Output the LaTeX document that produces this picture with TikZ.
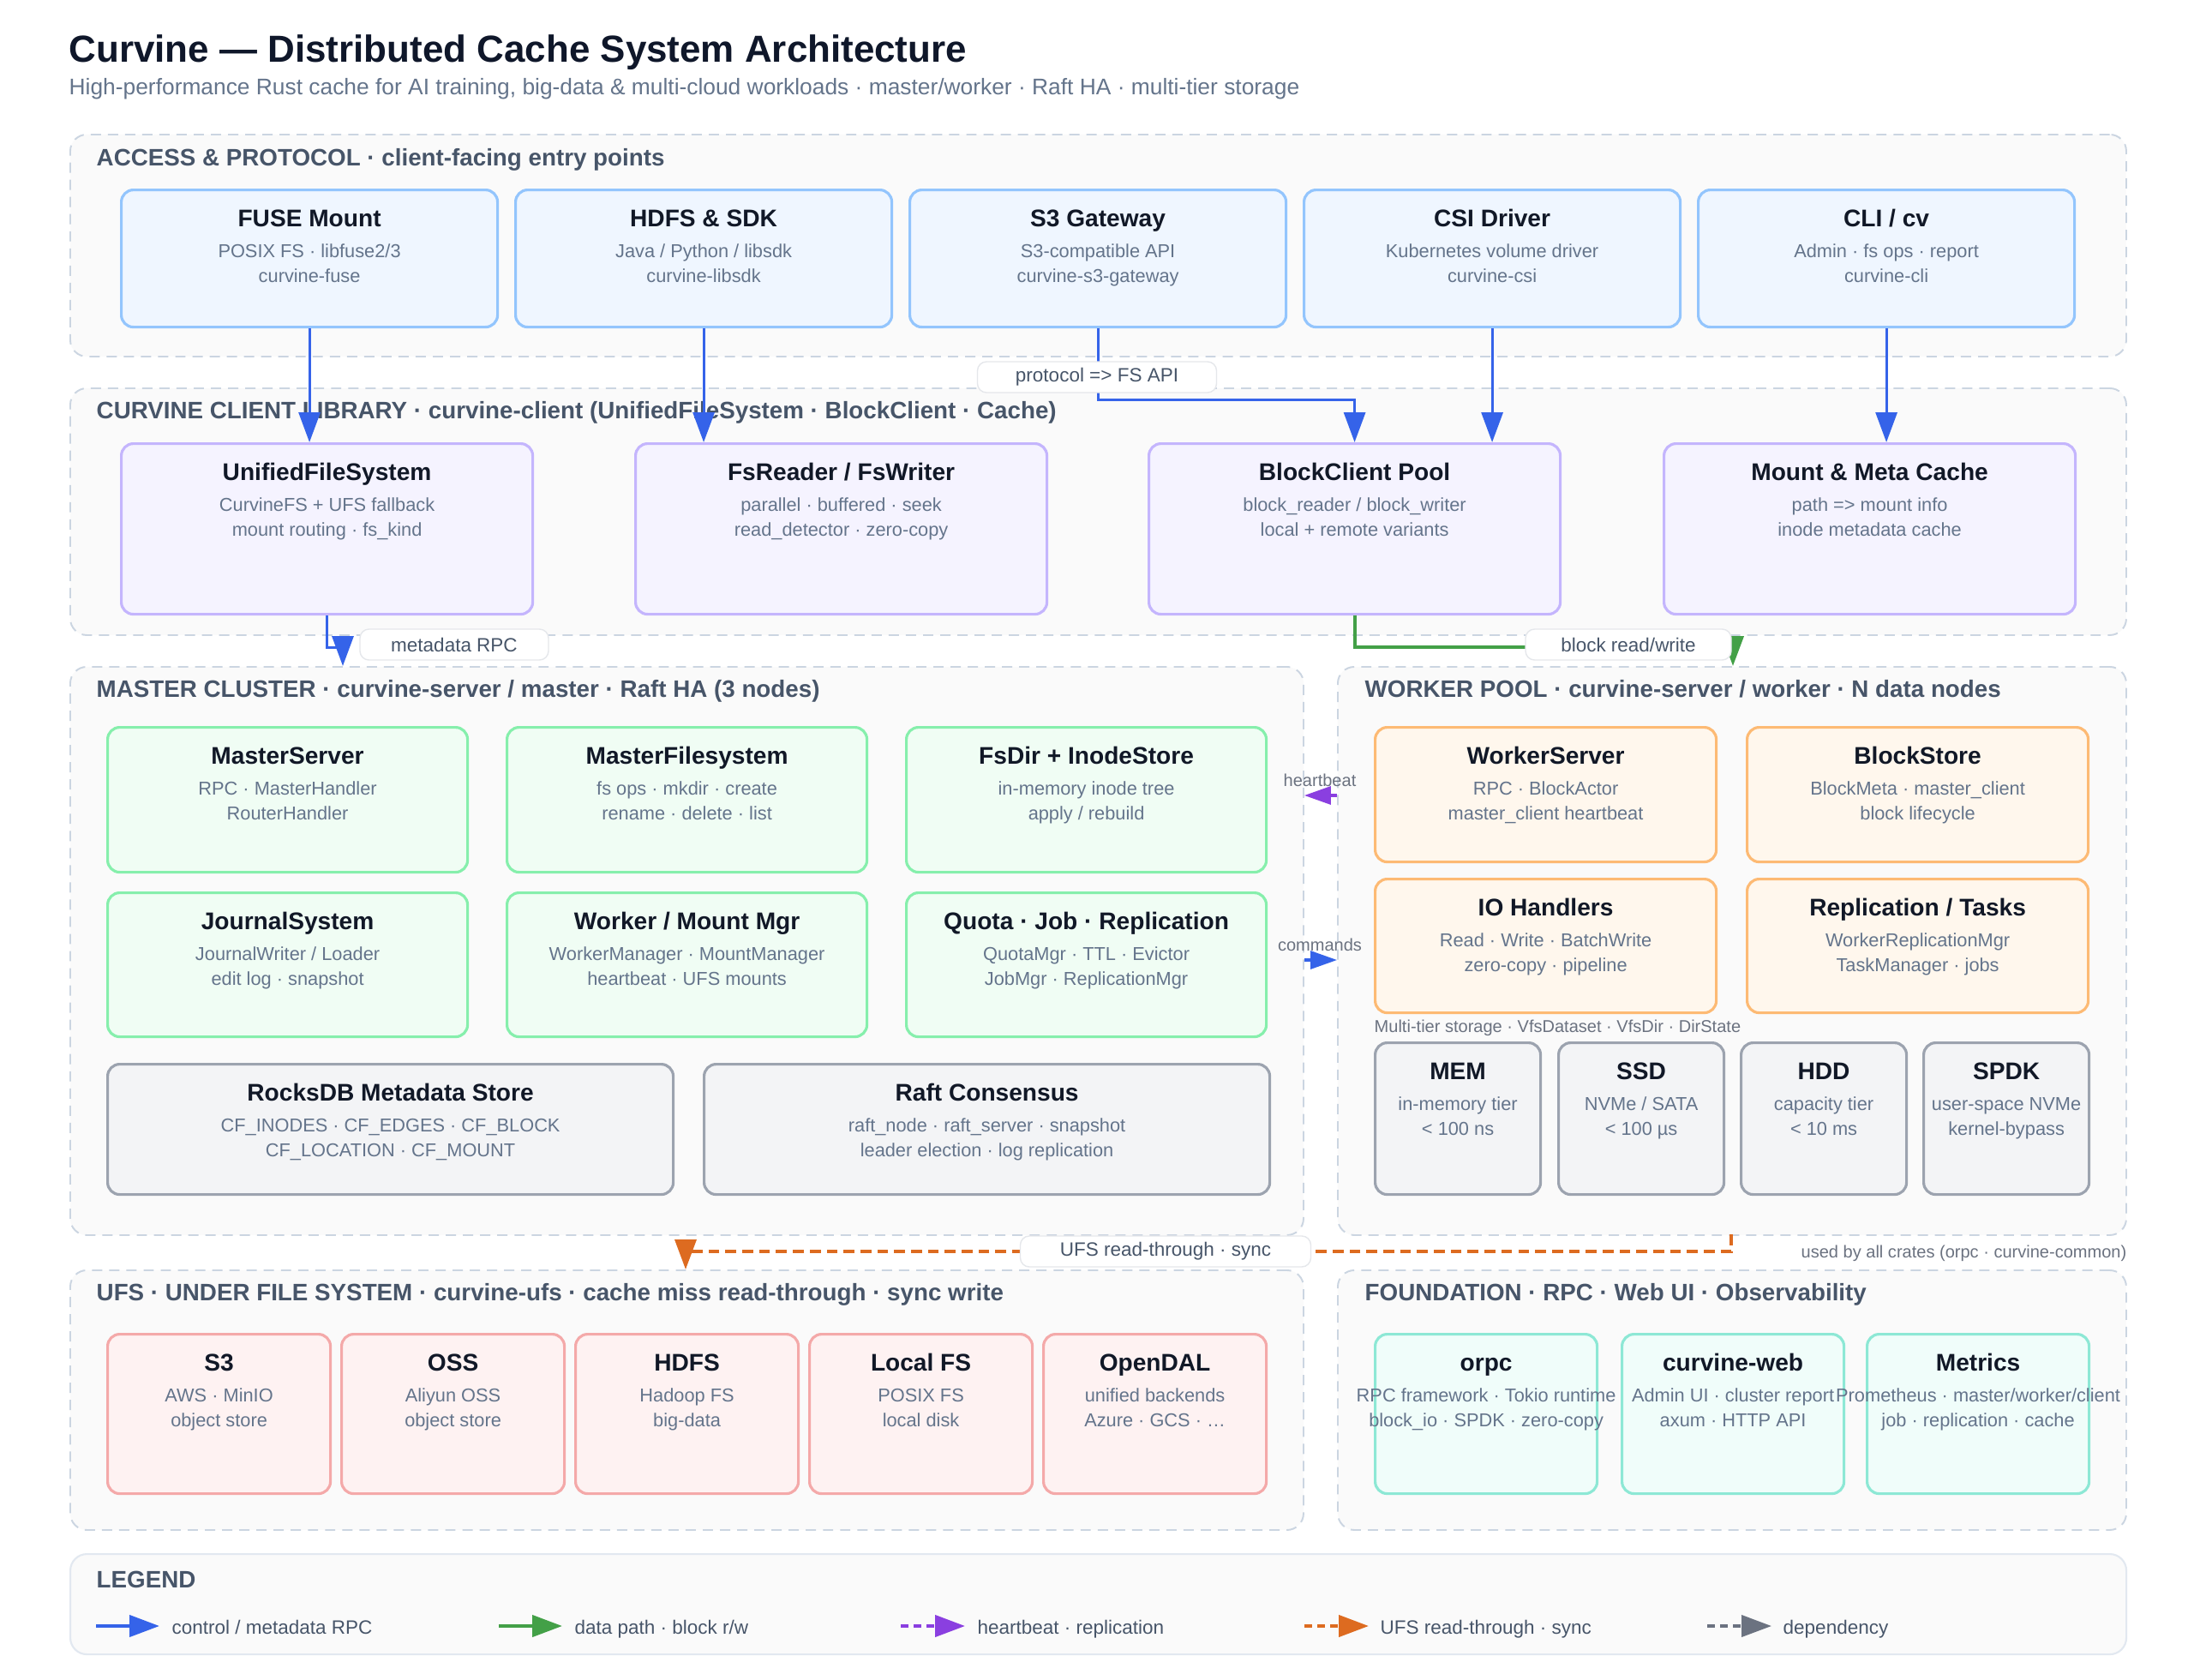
\documentclass[tikz,border=0pt]{standalone}
\usepackage{fontspec}
\setmainfont{Liberation Sans}
\usetikzlibrary{arrows.meta}
\definecolor{ctitle}{HTML}{0F172A}
\definecolor{csub}{HTML}{64748B}
\definecolor{cgrouptext}{HTML}{475569}
\definecolor{cnodetext}{HTML}{111827}
\definecolor{csmall}{HTML}{6B7280}
\definecolor{cgroupbg}{HTML}{FAFAFA}
\definecolor{cgroupline}{HTML}{CBD5E1}
\definecolor{clegline}{HTML}{E2E8F0}
\definecolor{clblline}{HTML}{E5E7EB}
\definecolor{cblue}{HTML}{3563E9}
\definecolor{cgreen}{HTML}{43A047}
\definecolor{cpurple}{HTML}{8A3FE0}
\definecolor{corange}{HTML}{DD6B20}
\definecolor{cgray}{HTML}{6B7280}
\definecolor{accessbg}{HTML}{EFF6FF}
\definecolor{accessline}{HTML}{93C5FD}
\definecolor{clientbg}{HTML}{F5F3FF}
\definecolor{clientline}{HTML}{C4B5FD}
\definecolor{masterbg}{HTML}{F0FDF4}
\definecolor{masterline}{HTML}{86EFAC}
\definecolor{storebg}{HTML}{F3F4F6}
\definecolor{storeline}{HTML}{9CA3AF}
\definecolor{workerbg}{HTML}{FFF7ED}
\definecolor{workerline}{HTML}{FDBA74}
\definecolor{ufsbg}{HTML}{FEF2F2}
\definecolor{ufsline}{HTML}{F4A9A9}
\definecolor{foundbg}{HTML}{F0FDFA}
\definecolor{foundline}{HTML}{8DE8D5}

\tikzset{
  group/.style={draw=cgroupline, fill=cgroupbg, line width=0.55pt, dash pattern=on 3.4pt off 2.3pt,
    rounded corners=5.5pt, inner sep=0pt, anchor=north west},
  legendbox/.style={draw=clegline, fill=cgroupbg, line width=0.6pt, rounded corners=5.5pt,
    inner sep=0pt, anchor=north west},
  grouptitle/.style={anchor=base west, inner sep=0pt, text=cgrouptext,
    font=\fontsize{7.9}{9}\selectfont\bfseries},
  comp/.style={draw=#1line, fill=#1bg, line width=0.9pt, rounded corners=4pt, inner sep=0pt},
  comptitle/.style={anchor=base, inner sep=0pt, text=cnodetext, font=\fontsize{8}{9.6}\selectfont\bfseries},
  compsub/.style={anchor=base, inner sep=0pt, text=csub, font=\fontsize{6.2}{7.5}\selectfont},
  lbl/.style={draw=clblline, fill=white, line width=0.4pt, rounded corners=3pt, inner sep=0pt,
    minimum height=0.36cm, text=cgrouptext, font=\fontsize{6.4}{7.5}\selectfont},
  smalltxt/.style={inner sep=0pt, text=csmall, font=\fontsize{5.7}{6.5}\selectfont},
  legtxt/.style={anchor=mid west, inner sep=0pt, text=cgrouptext, font=\fontsize{6.4}{7.5}\selectfont},
  ctrlarrow/.style={draw=cblue, line width=0.9pt, -{Triangle[length=3.5mm,width=2.5mm]}},
  dataarrow/.style={draw=cgreen, line width=1.1pt, -{Triangle[length=3.5mm,width=2.5mm]}},
  beatarrow/.style={draw=cpurple, line width=0.9pt, dash pattern=on 2.5pt off 1.8pt,
    -{Triangle[length=3.1mm,width=2.1mm]}},
  syncarrow/.style={draw=corange, line width=1pt, dash pattern=on 3.6pt off 2pt,
    -{Triangle[length=3.5mm,width=2.5mm]}},
  deparrow/.style={draw=cgray, line width=1.1pt, dash pattern=on 2.5pt off 1.8pt,
    -{Triangle[length=3.5mm,width=2.5mm]}},
}

% box with title and two lines below it
\newcommand{\compnode}[9]{%
  \node[comp=#2, anchor=north west, minimum width=#5cm, minimum height=#6cm] (#1) at (#3,#4) {};
  \node[comptitle] at ([yshift=-0.44cm]#1.north) {#7};
  \node[compsub] at ([yshift=-0.80cm]#1.north) {#8};
  \node[compsub] at ([yshift=-1.09cm]#1.north) {#9};
}

\begin{document}
\begin{tikzpicture}[x=1cm,y=-1cm]
  \useasboundingbox (0,0) rectangle (25.60,19.60);
  \fill[white] (0,0) rectangle (25.60,19.60);

  \node[anchor=base west, inner sep=0pt, text=ctitle, font=\fontsize{12.5}{14}\selectfont\bfseries]
    (title) at (0.80,0.72) {Curvine — Distributed Cache System Architecture};
  \node[anchor=base west, inner sep=0pt, text=csub, font=\fontsize{7.5}{9}\selectfont]
    (subtitle) at (0.80,1.10) {High-performance Rust cache for AI training, big-data \& multi-cloud workloads · master/worker · Raft HA · multi-tier storage};

  % layers
  \node[group, minimum width=23.99cm, minimum height=2.59cm] (gaccess) at (0.81,1.56) {};
  \node[group, minimum width=23.99cm, minimum height=2.88cm] (gclient) at (0.81,4.52) {};
  \node[group, minimum width=14.39cm, minimum height=6.63cm] (gmaster) at (0.81,7.77) {};
  \node[group, minimum width=9.20cm, minimum height=6.63cm] (gworker) at (15.60,7.77) {};
  \node[group, minimum width=14.39cm, minimum height=3.03cm] (gufs) at (0.81,14.81) {};
  \node[group, minimum width=9.20cm, minimum height=3.03cm] (gfound) at (15.60,14.81) {};
  \node[legendbox, minimum width=23.99cm, minimum height=1.17cm] (glegend) at (0.81,18.12) {};

  \node[grouptitle] at (1.12,1.93) {ACCESS \& PROTOCOL · client-facing entry points};
  \node[grouptitle] at (1.12,4.88) {CURVINE CLIENT LIBRARY · curvine-client (UnifiedFileSystem · BlockClient · Cache)};
  \node[grouptitle] at (1.12,8.13) {MASTER CLUSTER · curvine-server / master · Raft HA (3 nodes)};
  \node[grouptitle] at (15.92,8.13) {WORKER POOL · curvine-server / worker · N data nodes};
  \node[grouptitle] at (1.12,15.17) {UFS · UNDER FILE SYSTEM · curvine-ufs · cache miss read-through · sync write};
  \node[grouptitle] at (15.92,15.17) {FOUNDATION · RPC · Web UI · Observability};
  \node[grouptitle] at (1.12,18.52) {LEGEND};

  % access
  \compnode{fuse}{access}{1.40}{2.20}{4.39}{1.60}{FUSE Mount}{POSIX FS · libfuse2/3}{curvine-fuse}
  \compnode{hdfs}{access}{6.00}{2.20}{4.39}{1.60}{HDFS \& SDK}{Java / Python / libsdk}{curvine-libsdk}
  \compnode{s3gw}{access}{10.60}{2.20}{4.39}{1.60}{S3 Gateway}{S3-compatible API}{curvine-s3-gateway}
  \compnode{csi}{access}{15.20}{2.20}{4.39}{1.60}{CSI Driver}{Kubernetes volume driver}{curvine-csi}
  \compnode{cli}{access}{19.80}{2.20}{4.39}{1.60}{CLI / cv}{Admin · fs ops · report}{curvine-cli}

  % client
  \compnode{ufsys}{client}{1.40}{5.16}{4.80}{1.99}{UnifiedFileSystem}{CurvineFS + UFS fallback}{mount routing · fs\_kind}
  \compnode{fsrw}{client}{7.40}{5.16}{4.80}{1.99}{FsReader / FsWriter}{parallel · buffered · seek}{read\_detector · zero-copy}
  \compnode{bcpool}{client}{13.39}{5.16}{4.80}{1.99}{BlockClient Pool}{block\_reader / block\_writer}{local + remote variants}
  \compnode{mcache}{client}{19.40}{5.16}{4.80}{1.99}{Mount \& Meta Cache}{path => mount info}{inode metadata cache}

  % master
  \compnode{mserver}{master}{1.24}{8.47}{4.20}{1.69}{MasterServer}{RPC · MasterHandler}{RouterHandler}
  \compnode{mfs}{master}{5.90}{8.47}{4.20}{1.69}{MasterFilesystem}{fs ops · mkdir · create}{rename · delete · list}
  \compnode{fsdir}{master}{10.56}{8.47}{4.20}{1.69}{FsDir + InodeStore}{in-memory inode tree}{apply / rebuild}
  \compnode{journal}{master}{1.24}{10.40}{4.20}{1.68}{JournalSystem}{JournalWriter / Loader}{edit log · snapshot}
  \compnode{wmgr}{master}{5.90}{10.40}{4.20}{1.68}{Worker / Mount Mgr}{WorkerManager · MountManager}{heartbeat · UFS mounts}
  \compnode{qjr}{master}{10.56}{10.40}{4.20}{1.68}{Quota · Job · Replication}{QuotaMgr · TTL · Evictor}{JobMgr · ReplicationMgr}
  \compnode{rocks}{store}{1.24}{12.40}{6.60}{1.52}{RocksDB Metadata Store}{CF\_INODES · CF\_EDGES · CF\_BLOCK}{CF\_LOCATION · CF\_MOUNT}
  \compnode{raft}{store}{8.20}{12.40}{6.60}{1.52}{Raft Consensus}{raft\_node · raft\_server · snapshot}{leader election · log replication}

  % worker
  \compnode{wserver}{worker}{16.03}{8.47}{3.98}{1.57}{WorkerServer}{RPC · BlockActor}{master\_client heartbeat}
  \compnode{bstore}{worker}{20.37}{8.47}{3.98}{1.57}{BlockStore}{BlockMeta · master\_client}{block lifecycle}
  \compnode{ioh}{worker}{16.03}{10.24}{3.98}{1.56}{IO Handlers}{Read · Write · BatchWrite}{zero-copy · pipeline}
  \compnode{repl}{worker}{20.37}{10.24}{3.98}{1.56}{Replication / Tasks}{WorkerReplicationMgr}{TaskManager · jobs}
  \node[smalltxt, anchor=base west] (ltier) at (16.03,12.04) {Multi-tier storage · VfsDataset · VfsDir · DirState};
  \compnode{mem}{store}{16.03}{12.15}{1.93}{1.77}{MEM}{in-memory tier}{< 100 ns}
  \compnode{ssd}{store}{18.17}{12.15}{1.93}{1.77}{SSD}{NVMe / SATA}{< 100 µs}
  \compnode{hdd}{store}{20.30}{12.15}{1.93}{1.77}{HDD}{capacity tier}{< 10 ms}
  \compnode{spdk}{store}{22.43}{12.15}{1.93}{1.77}{SPDK}{user-space NVMe}{kernel-bypass}

  % ufs
  \compnode{us3}{ufs}{1.24}{15.55}{2.60}{1.86}{S3}{AWS · MinIO}{object store}
  \compnode{uoss}{ufs}{3.97}{15.55}{2.60}{1.86}{OSS}{Aliyun OSS}{object store}
  \compnode{uhdfs}{ufs}{6.70}{15.55}{2.60}{1.86}{HDFS}{Hadoop FS}{big-data}
  \compnode{ulocal}{ufs}{9.43}{15.55}{2.60}{1.86}{Local FS}{POSIX FS}{local disk}
  \compnode{udal}{ufs}{12.16}{15.55}{2.60}{1.86}{OpenDAL}{unified backends}{Azure · GCS · …}

  % foundation
  \compnode{orpc}{found}{16.03}{15.55}{2.59}{1.86}{orpc}{RPC framework · Tokio runtime}{block\_io · SPDK · zero-copy}
  \compnode{web}{found}{18.91}{15.55}{2.59}{1.86}{curvine-web}{Admin UI · cluster report}{axum · HTTP API}
  \compnode{metrics}{found}{21.77}{15.55}{2.59}{1.86}{Metrics}{Prometheus · master/worker/client}{job · replication · cache}

  % connectors
  \coordinate (mdin) at (4.00,7.77);
  \coordinate (dwin) at (20.22,7.77);
  \coordinate (hby) at (0,9.28);
  \coordinate (cmy) at (0,11.20);
  \coordinate (usrc) at (20.20,14.40);
  \coordinate (udst) at (8.00,14.81);

  \draw[ctrlarrow] (fuse.south) -- (fuse.south |- ufsys.north);
  \draw[ctrlarrow] (hdfs.south) -- (hdfs.south |- fsrw.north);
  \draw[ctrlarrow] (s3gw.south) -- ++(0,0.83) -| (bcpool.north);
  \draw[ctrlarrow] (csi.south) -- (csi.south |- bcpool.north);
  \draw[ctrlarrow] (cli.south) -- (cli.south |- mcache.north);
  \draw[ctrlarrow] (ufsys.south) -- ++(0,0.37) -| (mdin);
  \draw[dataarrow] (bcpool.south) -- ++(0,0.37) -| (dwin);
  \draw[beatarrow] (gworker.west |- hby) -- (gmaster.east |- hby);
  \draw[ctrlarrow, -{Triangle[length=3.1mm,width=2.1mm]}] (gmaster.east |- cmy) -- (gworker.west |- cmy);
  \draw[syncarrow] (usrc) -- ++(0,0.20) -| (udst);

  \node[lbl, minimum width=2.79cm] (lproto) at (12.80,4.40) {protocol => FS API};
  \node[lbl, minimum width=2.20cm] (lmeta) at (5.30,7.52) {metadata RPC};
  \node[lbl, minimum width=2.40cm] (lblock) at (19.00,7.52) {block read/write};
  \node[lbl, minimum width=3.39cm] (lsync) at (13.60,14.60) {UFS read-through · sync};
  \node[smalltxt] (lbeat) at (15.40,9.10) {heartbeat};
  \node[smalltxt] (lcmd) at (15.40,11.02) {commands};
  \node[smalltxt, anchor=base east] (lcrates) at (24.82,14.67) {used by all crates (orpc · curvine-common)};

  % legend
  \coordinate (k1a) at (1.12,18.97);  \coordinate (k1b) at (1.86,18.97);
  \coordinate (k2a) at (5.82,18.97);  \coordinate (k2b) at (6.56,18.97);
  \coordinate (k3a) at (10.51,18.97); \coordinate (k3b) at (11.26,18.97);
  \coordinate (k4a) at (15.22,18.97); \coordinate (k4b) at (15.97,18.97);
  \coordinate (k5a) at (19.92,18.97); \coordinate (k5b) at (20.67,18.97);
  \draw[ctrlarrow, line width=1.2pt] (k1a) -- (k1b);
  \draw[dataarrow, line width=1.2pt] (k2a) -- (k2b);
  \draw[beatarrow, line width=1.2pt, -{Triangle[length=3.5mm,width=2.5mm]}] (k3a) -- (k3b);
  \draw[syncarrow, line width=1.2pt, dash pattern=on 2.5pt off 1.8pt] (k4a) -- (k4b);
  \draw[deparrow] (k5a) -- (k5b);
  \node[legtxt] (t1) at (2.00,18.97) {control / metadata RPC};
  \node[legtxt] (t2) at (6.70,18.97) {data path · block r/w};
  \node[legtxt] (t3) at (11.40,18.97) {heartbeat · replication};
  \node[legtxt] (t4) at (16.10,18.97) {UFS read-through · sync};
  \node[legtxt] (t5) at (20.80,18.97) {dependency};
\end{tikzpicture}
\end{document}
